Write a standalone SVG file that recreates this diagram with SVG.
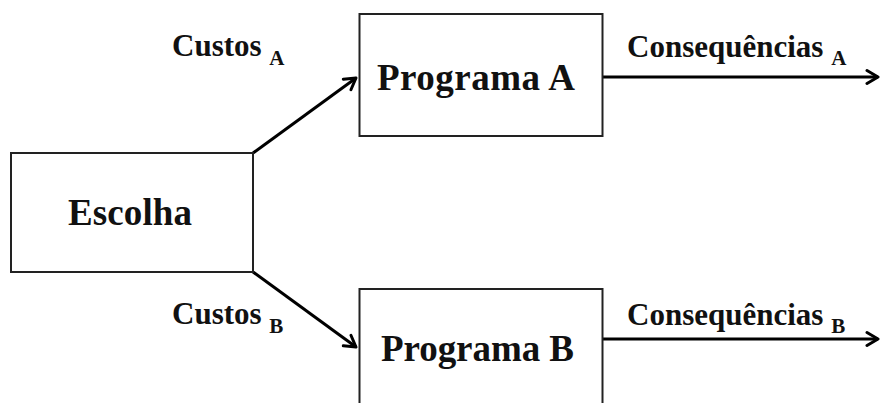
<svg xmlns="http://www.w3.org/2000/svg" width="880" height="403" viewBox="0 0 880 403">
  <style>
    .box { fill: #ffffff; stroke: #222222; stroke-width: 2; }
    .lbl { font-family: "Liberation Serif", "Times New Roman", serif; font-weight: bold; fill: #111111; }
    .big { font-size: 37px; }
    .mid { font-size: 31px; }
    .sub { font-size: 21px; }
    .conn { stroke: #000000; stroke-width: 3; fill: none; }
  </style>
  <defs>
    <marker id="arrow" markerUnits="userSpaceOnUse" markerWidth="18" markerHeight="18" refX="14" refY="9" orient="auto">
      <path d="M3,2.5 L14,9 L3,15.5" fill="none" stroke="#000000" stroke-width="3" stroke-linejoin="round" stroke-linecap="round"/>
    </marker>
  </defs>
  <rect width="880" height="403" fill="#ffffff"/>

  <g id="connectors">
    <line class="conn" x1="253" y1="153" x2="356" y2="78" marker-end="url(#arrow)"/>
    <line class="conn" x1="253" y1="272" x2="356" y2="347" marker-end="url(#arrow)"/>
    <line class="conn" x1="603" y1="77" x2="878" y2="77" marker-end="url(#arrow)"/>
    <line class="conn" x1="603" y1="339" x2="878" y2="339" marker-end="url(#arrow)"/>
  </g>

  <g id="escolha">
    <rect class="box" x="11" y="153" width="242" height="119"/>
    <text class="lbl big" x="68" y="225" textLength="124" lengthAdjust="spacing">Escolha</text>
  </g>

  <g id="programa-a">
    <rect class="box" x="359.5" y="14" width="243" height="122"/>
    <text class="lbl big" x="377" y="90" textLength="198" lengthAdjust="spacing">Programa A</text>
  </g>

  <g id="programa-b">
    <rect class="box" x="359.5" y="289" width="243" height="125"/>
    <text class="lbl big" x="381" y="361" textLength="193" lengthAdjust="spacing">Programa B</text>
  </g>

  <g id="labels">
    <text class="lbl mid" x="172" y="56">Custos <tspan class="sub" dy="9">A</tspan></text>
    <text class="lbl mid" x="172" y="324">Custos <tspan class="sub" dy="9">B</tspan></text>
    <text class="lbl mid" x="627" y="57">Consequências <tspan class="sub" dy="8">A</tspan></text>
    <text class="lbl mid" x="627" y="325">Consequências <tspan class="sub" dy="8">B</tspan></text>
  </g>
</svg>
